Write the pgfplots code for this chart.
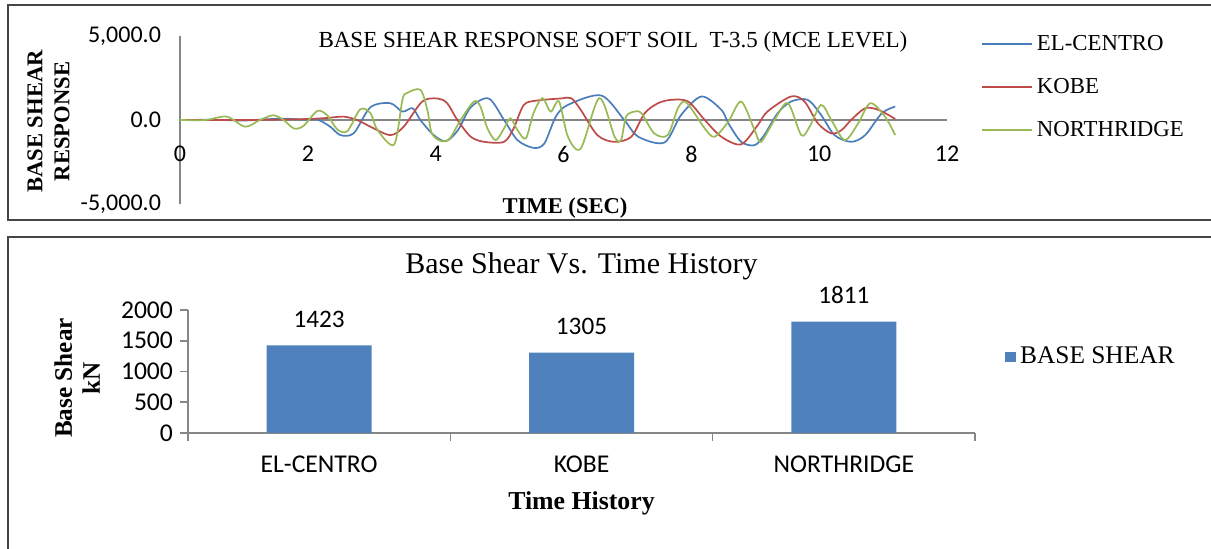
\documentclass[border=0pt]{standalone}
\usepackage{pgfplots}
\pgfplotsset{compat=1.18}
\usepackage{fontspec}
\setmainfont{Liberation Serif}
\newfontfamily\carlito{Carlito}
\definecolor{ecblue}{RGB}{74,126,187}
\definecolor{kred}{RGB}{190,75,72}
\definecolor{ngreen}{RGB}{152,185,84}
\definecolor{barblue}{RGB}{79,129,189}
\definecolor{axgray}{RGB}{134,134,134}
\definecolor{framegray}{RGB}{70,70,70}

\begin{document}
\begin{tikzpicture}
\begin{scope}[x=0.5pt,y=0.5pt]
\path[use as bounding box] (0,0) rectangle (1211,549);
\draw[framegray, line width=1pt] (1230,544) -- (8,544) -- (8,329) -- (1230,329);
\draw[framegray, line width=1pt] (1230,312) -- (8,312) -- (8,-20);
\end{scope}

% top: time history of base shear
\begin{axis}[
  at={(90pt,172.5pt)}, anchor=south west,
  scale only axis, width=383.5pt, height=84pt,
  xmin=0, xmax=12, ymin=-5000, ymax=5000,
  axis x line=middle, axis y line=left,
  axis line style={draw=axgray, line width=0.8pt, -},
  hide obscured x ticks=false, hide obscured y ticks=false,
  xtick={0,2,...,12},
  ytick={-5000,0,5000}, yticklabels={{-5,000.0},{0.0},{5,000.0}},
  major tick length=0pt,
  /pgf/number format/assume math mode=true,
  tick label style={font=\carlito\fontsize{12}{14}\selectfont},
  xticklabel style={yshift=-9.5pt},
  yticklabel style={xshift=-6pt},
  title={BASE SHEAR RESPONSE SOFT SOIL\ \ T-3.5 (MCE LEVEL)},
  title style={at={(axis description cs:0.5645,0.970)}, anchor=center, yshift=-6.5pt, font=\fontsize{11.5}{13}\selectfont},
  xlabel={TIME (SEC)},
  xlabel style={at={(axis description cs:0.502,-0.024)}, anchor=center, font=\bfseries\fontsize{11.3}{13}\selectfont},
  ylabel={BASE SHEAR\\RESPONSE},
  ylabel style={at={(axis description cs:-0.1714,0.491)}, anchor=center, align=center, font=\bfseries\fontsize{11.3}{13.5}\selectfont},
  legend cell align=left,
  legend style={at={(axis description cs:1.044,0.696)}, anchor=west, draw=none, fill=none, inner sep=0pt, row sep=8.5pt, font=\fontsize{11.4}{13}\selectfont},
  legend image code/.code={\draw[#1, line width=0.9pt] (0pt,0pt) -- (25pt,0pt);},
]
\addplot[ecblue, line width=0.85pt, smooth, tension=0.5] coordinates {
 (0,0) (0.5,10) (1.0,-30) (1.3,30) (1.6,80) (1.9,30) (2.15,20) (2.35,-400)
 (2.51,-900) (2.72,-780) (2.98,760) (3.29,1000) (3.48,500) (3.64,700) (3.76,0)
 (3.97,-900) (4.16,-1260) (4.35,-600) (4.55,760) (4.83,1280) (5.07,0) (5.28,-1200)
 (5.53,-1660) (5.7,-1400) (5.88,200) (6.07,900) (6.59,1460) (6.95,0) (7.17,-1000)
 (7.58,-1340) (7.84,300) (8.16,1400) (8.47,600) (8.58,-200) (8.78,-1300) (8.99,-1500)
 (9.14,-900) (9.35,400) (9.56,1100) (9.82,1200) (10.03,300) (10.24,-900) (10.5,-1300)
 (10.72,-900) (10.98,400) (11.19,800)
};
\addlegendentry{EL-CENTRO}
\addplot[kred, line width=0.85pt, smooth, tension=0.5] coordinates {
 (0,0) (1.0,0) (1.5,20) (2.0,60) (2.3,120) (2.56,200) (2.77,0) (2.98,-400)
 (3.29,-900) (3.5,-400) (3.79,1100) (4.03,1280) (4.18,1000) (4.34,0) (4.55,-1000)
 (4.76,-1300) (5.07,-1300) (5.22,-500) (5.38,900) (5.59,1160) (5.96,1280) (6.12,1300)
 (6.27,600) (6.53,-900) (6.79,-1300) (7.06,-1000) (7.27,400) (7.48,1000) (7.69,1200)
 (7.95,1100) (8.21,0) (8.47,-1000) (8.78,-1450) (9.04,-300) (9.19,500) (9.56,1400)
 (9.77,1100) (9.98,-200) (10.19,-800) (10.35,-600) (10.5,0) (10.72,700) (10.93,600)
 (11.19,60)
};
\addlegendentry{KOBE}
\addplot[ngreen, line width=0.85pt, smooth, tension=0.5] coordinates {
 (0,0) (0.4,0) (0.73,200) (1.02,-400) (1.25,0) (1.46,280) (1.62,0) (1.78,-500)
 (1.93,-360) (2.15,540) (2.31,250) (2.46,-560) (2.62,-660) (2.82,640) (2.98,400)
 (3.09,-600) (3.35,-1460) (3.48,1200) (3.55,1600) (3.76,1800) (3.87,600) (3.94,-800)
 (4.09,-1260) (4.22,-1100) (4.39,0) (4.6,1100) (4.7,800) (4.81,-500) (4.94,-1200)
 (5.07,-500) (5.17,100) (5.28,-600) (5.41,-1100) (5.53,400) (5.67,1300) (5.8,500)
 (5.93,1100) (6.07,-1000) (6.27,-1700) (6.56,1300) (6.8,-1000) (6.9,-1200) (6.98,200)
 (7.11,500) (7.22,400) (7.42,-800) (7.63,-900) (7.79,700) (7.9,1100) (8.05,400)
 (8.21,-500) (8.36,-1000) (8.58,-100) (8.78,1100) (8.99,-600) (9.09,-1300) (9.3,0)
 (9.51,1000) (9.72,-900) (9.85,-400) (10.03,900) (10.19,0) (10.4,-1200) (10.61,-200)
 (10.8,1000) (11.03,200) (11.19,-900)
};
\addlegendentry{NORTHRIDGE}
\end{axis}

% bottom: peak base shear per record
\begin{axis}[
  at={(94pt,58pt)}, anchor=south west,
  scale only axis, width=393.5pt, height=61.5pt,
  xmin=-0.5, xmax=2.5, ymin=0, ymax=2000,
  axis x line=bottom, axis y line=left,
  axis line style={draw=axgray, line width=0.8pt, -},
  ybar, bar width=52.5pt,
  xtick={-0.5,0.5,1.5,2.5}, xticklabels={},
  extra x ticks={0,1,2}, extra x tick labels={EL-CENTRO,KOBE,NORTHRIDGE},
  extra x tick style={tick style={draw=none}},
  ytick={0,500,...,2000},
  tick style={draw=axgray, line width=0.8pt},
  major tick length=4pt, tick align=outside,
  /pgf/number format/assume math mode=true,
  /pgf/number format/1000 sep={},
  tick label style={font=\carlito\fontsize{12.8}{15}\selectfont},
  xticklabel style={yshift=-4pt},
  nodes near coords, point meta=y,
  nodes near coords style={font=\carlito\fontsize{12.6}{15}\selectfont, black, yshift=5.5pt},
  title={Base Shear Vs. Time History},
  title style={at={(axis description cs:0.5,1.382)}, anchor=center, yshift=-7.5pt, font=\fontsize{15}{17}\selectfont},
  xlabel={Time History},
  xlabel style={at={(axis description cs:0.5,-0.569)}, anchor=center, font=\bfseries\fontsize{12.9}{15}\selectfont},
  ylabel={Base Shear\\kN},
  ylabel style={at={(axis description cs:-0.141,0.447)}, anchor=center, align=center, font=\bfseries\fontsize{12.6}{14}\selectfont},
  legend style={at={(axis description cs:1.038,0.618)}, anchor=west, draw=none, fill=none, inner sep=0pt, font=\fontsize{12.7}{15}\selectfont},
  legend image code/.code={\fill[barblue] (0pt,-2.7pt) rectangle (5.4pt,2.7pt);},
]
\addplot[fill=barblue, draw=none] coordinates {(0,1423) (1,1305) (2,1811)};
\addlegendentry{BASE SHEAR}
\end{axis}
\end{tikzpicture}
\end{document}
